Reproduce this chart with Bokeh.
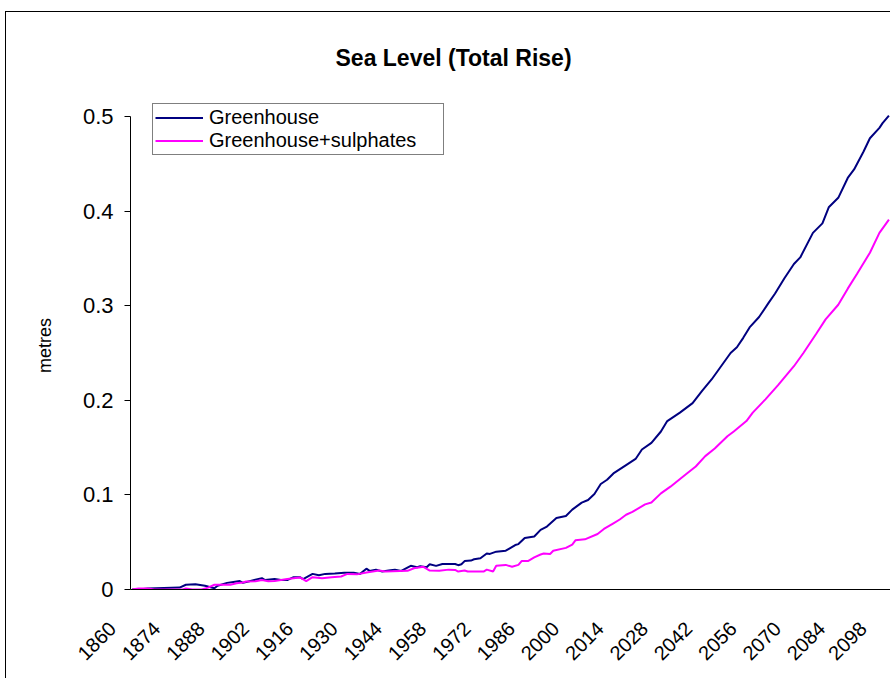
import math
from bokeh.plotting import figure
from bokeh.models import Range1d, FixedTicker, Legend, LegendItem
from bokeh.embed import file_html
from bokeh.resources import INLINE

title_text = "Sea Level (Total Rise)"
y_label = "metres"
series_names = ["Greenhouse", "Greenhouse+sulphates"]
x_ticks = list(range(1860, 2099, 14))
y_ticks = [0, 0.1, 0.2, 0.3, 0.4, 0.5]
y_tick_labels = ["0", "0.1", "0.2", "0.3", "0.4", "0.5"]

gh_years = [1860, 1862, 1865, 1870, 1875, 1877, 1880, 1883, 1886, 1887, 1890, 1892, 1894, 1895,
            1898, 1901, 1902, 1905, 1907, 1909, 1911, 1913, 1914, 1917, 1919, 1921, 1924, 1927,
            1930, 1932, 1934, 1935, 1937, 1939, 1941, 1943, 1945, 1948, 1950, 1951, 1953, 1954,
            1956, 1958, 1962, 1963, 1964, 1965, 1967, 1968, 1970, 1972, 1973, 1975, 1978, 1979,
            1981, 1982, 1984, 1987, 1989, 1991, 1994, 1997, 1999, 2002, 2004, 2006, 2008, 2010,
            2012, 2016, 2019, 2021, 2024, 2027, 2029, 2033, 2037, 2040, 2043, 2046, 2049, 2051,
            2053, 2055, 2058, 2061, 2063, 2066, 2069, 2071, 2075, 2078, 2080, 2083, 2086, 2088,
            2091, 2093, 2096, 2097, 2099]
gh_values = [0.0, 0.0, 0.001, 0.0015, 0.002, 0.005, 0.0056, 0.004, 0.0014, 0.004, 0.007, 0.008,
             0.009, 0.007, 0.0095, 0.012, 0.010, 0.011, 0.010, 0.010, 0.013, 0.013, 0.011, 0.0165,
             0.015, 0.0165, 0.017, 0.0176, 0.0176, 0.0165, 0.022, 0.0197, 0.021, 0.019, 0.020,
             0.021, 0.0197, 0.025, 0.0236, 0.0246, 0.0236, 0.0267, 0.025, 0.027, 0.027, 0.0257,
             0.0267, 0.030, 0.0306, 0.032, 0.033, 0.038, 0.0376, 0.040, 0.041, 0.043, 0.047,
             0.048, 0.0545, 0.056, 0.063, 0.0665, 0.0756, 0.0777, 0.0844, 0.0918, 0.0946, 0.101,
             0.1115, 0.116, 0.1227, 0.1315, 0.138, 0.148, 0.155, 0.167, 0.178, 0.187, 0.197,
             0.210, 0.222, 0.236, 0.250, 0.256, 0.266, 0.277, 0.288, 0.303, 0.3126, 0.329, 0.344,
             0.351, 0.377, 0.387, 0.404, 0.414, 0.435, 0.444, 0.463, 0.477, 0.488, 0.493, 0.501]

gs_years = [1860, 1862, 1865, 1867, 1876, 1877, 1879, 1882, 1884, 1886, 1891, 1893, 1895, 1896,
            1899, 1901, 1903, 1905, 1909, 1913, 1915, 1917, 1920, 1923, 1926, 1928, 1931, 1934,
            1938, 1940, 1947, 1949, 1952, 1954, 1957, 1960, 1962, 1963, 1965, 1966, 1971, 1972,
            1974, 1975, 1978, 1980, 1982, 1983, 1985, 1987, 1989, 1990, 1992, 1993, 1997, 1999,
            2000, 2003, 2007, 2009, 2012, 2014, 2016, 2018, 2022, 2024, 2027, 2030, 2035, 2038,
            2041, 2044, 2048, 2050, 2054, 2056, 2060, 2064, 2069, 2072, 2076, 2079, 2083, 2086,
            2089, 2093, 2096, 2099]
gs_values = [0.0, 0.001, 0.001, 0.0, 0.0, 0.001, 0.0, 0.0, 0.002, 0.005, 0.005, 0.0067, 0.0074,
             0.0084, 0.0088, 0.010, 0.0088, 0.009, 0.011, 0.0127, 0.0088, 0.013, 0.012, 0.013,
             0.0137, 0.0165, 0.016, 0.018, 0.020, 0.019, 0.0197, 0.0225, 0.024, 0.020, 0.0197,
             0.021, 0.0207, 0.019, 0.020, 0.019, 0.019, 0.021, 0.019, 0.025, 0.026, 0.024, 0.026,
             0.030, 0.030, 0.034, 0.037, 0.038, 0.0376, 0.041, 0.044, 0.0475, 0.052, 0.053,
             0.0587, 0.064, 0.070, 0.074, 0.079, 0.082, 0.090, 0.092, 0.1016, 0.1087, 0.122,
             0.130, 0.141, 0.149, 0.162, 0.167, 0.178, 0.187, 0.201, 0.216, 0.236, 0.250, 0.270,
             0.2855, 0.301, 0.318, 0.334, 0.356, 0.377, 0.391]

FONT = "Liberation Sans"
X_START, X_END = 1859.5, 2099.5
Y_TOP = 0.5 * 489 / 474      # room above 0.5 for the legend box
PAD = "\u00a0" * 5           # rotated year labels end a little before their category

p = figure(width=885, height=667, output_backend="svg", toolbar_location=None,
           x_range=Range1d(X_START, X_END), y_range=Range1d(0, Y_TOP),
           min_border_left=124, min_border_right=1, min_border_top=88, min_border_bottom=90,
           background_fill_color="white", border_fill_color="white")
p.styles = {"margin-left": "5px", "margin-top": "11px",
            "border-left": "1px solid black", "border-top": "1px solid black"}
p.outline_line_color = None
p.xgrid.grid_line_color = None
p.ygrid.grid_line_color = None

p.title.text = title_text
p.title.align = "left"
p.title.offset = 205
p.title.standoff = 61
p.title.text_font = FONT
p.title.text_font_size = "23px"
p.title.text_font_style = "bold"
p.title.text_color = "black"

r1 = p.line(gh_years, gh_values, line_color="#000080", line_width=2)
r2 = p.line(gs_years, gs_values, line_color="#FF00FF", line_width=2)

xa = p.xaxis[0]
xa.ticker = FixedTicker(ticks=x_ticks)
xa.major_label_overrides = {t: str(t) + PAD for t in x_ticks}
xa.major_label_orientation = math.pi / 4
xa.major_label_text_font = FONT
xa.major_label_text_font_size = "20px"
xa.major_label_text_color = "black"
xa.major_tick_line_color = None
xa.minor_tick_line_color = None
xa.major_tick_out = 0
xa.major_tick_in = 0
xa.major_label_standoff = 16
xa.axis_line_color = "black"

ya = p.yaxis[0]
ya.ticker = FixedTicker(ticks=y_ticks)
ya.bounds = (0, 0.5)
ya.major_label_overrides = dict(zip(y_ticks, y_tick_labels))
ya.major_label_text_font = FONT
ya.major_label_text_font_size = "22px"
ya.major_label_text_color = "black"
ya.major_tick_out = 6
ya.major_tick_in = 0
ya.major_tick_line_color = "black"
ya.minor_tick_line_color = None
ya.major_label_standoff = 11
ya.axis_line_color = "black"
ya.axis_label = y_label
ya.axis_label_text_font = FONT
ya.axis_label_text_font_size = "18px"
ya.axis_label_text_font_style = "normal"
ya.axis_label_text_color = "black"
ya.axis_label_standoff = 25

legend = Legend(items=[LegendItem(label=series_names[0], renderers=[r1]),
                       LegendItem(label=series_names[1], renderers=[r2])],
                location=(22, 434), orientation="vertical",
                border_line_color="black", border_line_width=1,
                background_fill_color="white", background_fill_alpha=1.0,
                label_text_font=FONT, label_text_font_size="20px", label_text_color="black",
                padding=2, spacing=0, margin=0, glyph_width=48, glyph_height=21,
                label_height=21, label_width=232, label_standoff=6)
p.add_layout(legend)

open("out.html", "w").write(file_html(p, INLINE))
